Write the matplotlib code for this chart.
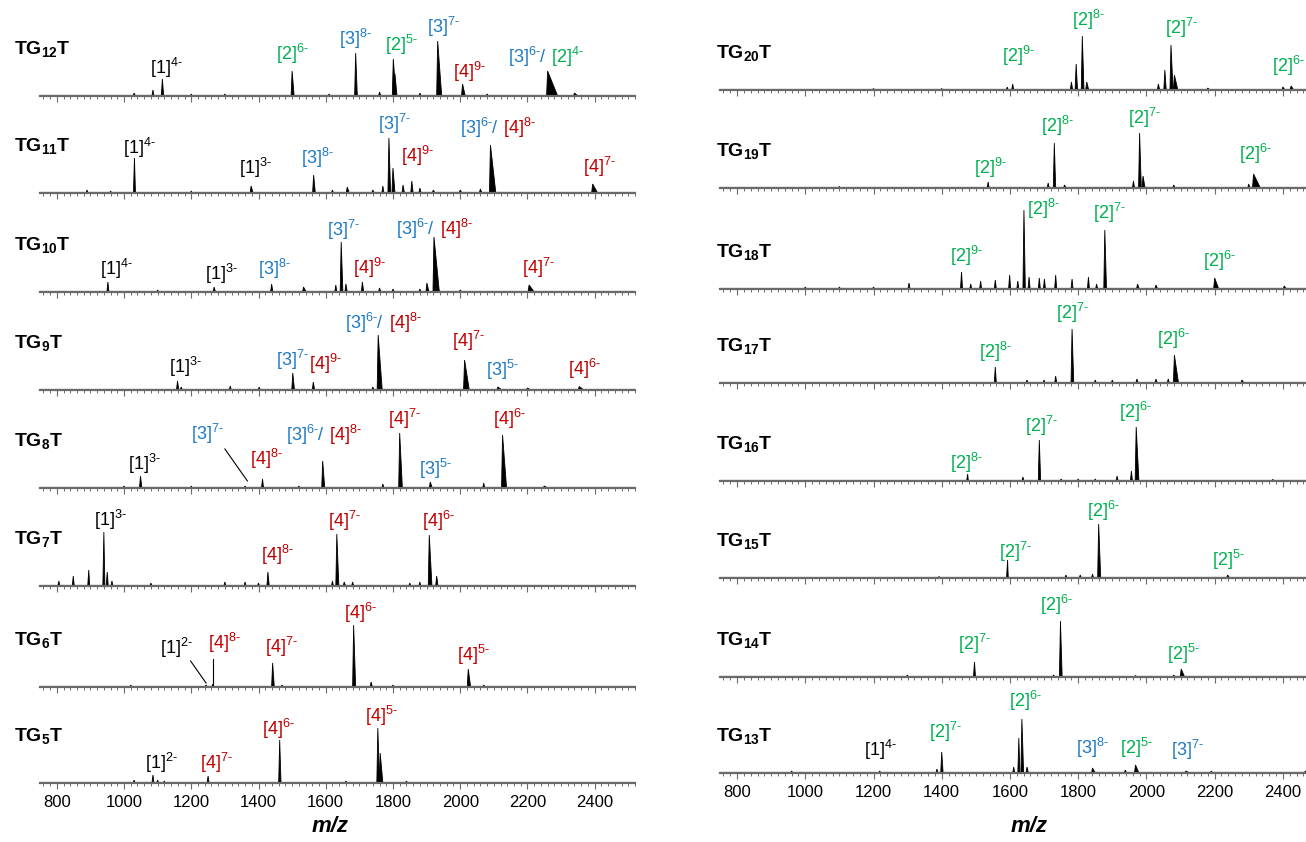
import matplotlib.pyplot as plt
from matplotlib.ticker import MultipleLocator

plt.rcParams['font.family'] = ['Liberation Sans', 'DejaVu Sans']
plt.rcParams['mathtext.fontset'] = 'custom'
plt.rcParams['mathtext.rm'] = 'Liberation Sans'
plt.rcParams['mathtext.it'] = 'Liberation Sans:italic'
plt.rcParams['mathtext.bf'] = 'Liberation Sans:bold'

# ---- peak lists: (m/z, relative intensity, tail width in m/z)
tg12_peaks = [(1030, 3, 4), (1086, 6, 3), (1114, 17, 4), (1200, 2, 3), (1300, 2, 3), (1500, 25, 6),
              (1610, 2, 3), (1689, 43, 5), (1760, 4, 4), (1801, 37, 8), (1806, 22, 6), (1880, 3, 4),
              (1933, 55, 12), (2007, 12, 8), (2080, 2, 4), (2260, 25, 30), (2340, 3, 10)]
tg11_peaks = [(890, 3, 3), (960, 2, 3), (1031, 35, 3), (1200, 2, 3), (1378, 7, 6), (1564, 18, 5),
              (1620, 3, 3), (1664, 6, 6), (1740, 3, 4), (1770, 7, 3), (1788, 55, 5), (1800, 25, 6),
              (1830, 8, 4), (1856, 12, 4), (1880, 5, 4), (1920, 3, 5), (2000, 3, 5), (2060, 4, 5),
              (2090, 48, 16), (2394, 9, 15)]
tg10_peaks = [(952, 10, 3), (1100, 2, 3), (1268, 5, 4), (1439, 8, 4), (1534, 5, 8), (1630, 7, 3),
              (1646, 50, 5), (1660, 8, 4), (1709, 10, 4), (1760, 4, 4), (1800, 3, 4), (1880, 3, 4),
              (1901, 9, 6), (1922, 55, 16), (2000, 2, 5), (2205, 7, 15)]
tg9_peaks = [(1159, 9, 4), (1170, 3, 4), (1316, 4, 3), (1402, 3, 3), (1502, 17, 5), (1563, 8, 4),
             (1740, 3, 4), (1756, 55, 12), (2013, 30, 14), (2112, 3, 12), (2200, 2, 10), (2354, 3.5, 14)]
tg8_peaks = [(1000, 2, 3), (1049, 12, 4), (1200, 2, 3), (1360, 2, 3), (1412, 9, 3), (1520, 2, 3),
             (1591, 27, 6), (1770, 4, 3), (1820, 55, 8), (1911, 6, 6), (2070, 5, 3), (2126, 53, 12),
             (2250, 2, 10)]
tg7_peaks = [(806, 5, 3), (849, 10, 3), (895, 16, 3), (940, 54, 3), (950, 14, 3), (964, 5, 3),
             (1080, 3, 3), (1300, 4, 3), (1360, 4, 3), (1400, 3, 3), (1428, 14, 4), (1620, 5, 3),
             (1633, 52, 6), (1655, 4, 4), (1680, 4, 3), (1850, 3, 3), (1880, 4, 3), (1908, 51, 8),
             (1930, 10, 4)]
tg6_peaks = [(1020, 2, 3), (1244, 2, 3), (1264, 3, 3), (1442, 24, 5), (1470, 2, 3), (1683, 62, 6),
             (1735, 5, 4), (1800, 2, 3), (2024, 18, 7), (2070, 2, 4)]
tg5_peaks = [(1030, 3, 3), (1086, 8, 3), (1100, 3, 3), (1120, 2, 3), (1250, 7, 3), (1463, 43, 4),
             (1660, 2, 3), (1755, 55, 5), (1762, 30, 8), (1840, 2, 3)]

tg20_peaks = [(1200, 1.5, 3), (1400, 1.5, 3), (1592, 3, 3), (1608, 6, 3), (1780, 8, 4), (1794, 26, 4),
              (1812, 54, 5), (1825, 8, 6), (2035, 6, 4), (2054, 20, 4), (2072, 45, 6), (2082, 15, 10),
              (2180, 2, 5), (2400, 3, 6), (2424, 4, 8)]
tg19_peaks = [(1100, 1.5, 3), (1536, 6, 3), (1712, 5, 3), (1730, 45, 4), (1760, 3, 4), (1962, 7, 3),
              (1980, 55, 5), (1990, 12, 6), (2080, 3, 4), (2300, 4, 3), (2314, 14, 20)]
tg18_peaks = [(1000, 2, 3), (1100, 2, 3), (1200, 2, 3), (1304, 6, 3), (1458, 17, 3), (1485, 5, 3),
              (1514, 8, 3), (1557, 9, 3), (1599, 14, 3), (1623, 8, 3), (1641, 79, 4), (1656, 12, 3),
              (1686, 11, 3), (1701, 10, 3), (1734, 14, 3), (1782, 10, 3), (1830, 12, 3), (1854, 5, 3),
              (1878, 59, 5), (1974, 5, 5), (2028, 4, 5), (2200, 11, 12), (2404, 3, 6)]
tg17_peaks = [(1557, 16, 3), (1650, 3, 3), (1700, 3, 3), (1734, 7, 3), (1782, 54, 5), (1850, 3, 3),
              (1900, 3, 3), (1972, 4, 4), (2028, 4, 4), (2064, 4, 3), (2082, 28, 12), (2280, 3, 6),
              (2480, 3, 8)]
tg16_peaks = [(1476, 7, 2), (1638, 4, 3), (1686, 41, 4), (1750, 2, 3), (1800, 2, 3), (1850, 2, 3),
              (1914, 5, 3), (1956, 10, 3), (1970, 54, 8), (2370, 1.5, 6)]
tg15_peaks = [(1392, 1.5, 3), (1593, 18, 2), (1764, 3, 3), (1806, 3, 3), (1842, 4, 3), (1860, 54, 6),
              (2238, 3, 6)]
tg14_peaks = [(1299, 2, 3), (1496, 15, 3), (1728, 2, 3), (1748, 56, 5), (1968, 1.5, 3), (2080, 2, 4),
              (2102, 8, 10)]
tg13_peaks = [(960, 2, 3), (1218, 2, 4), (1386, 4, 3), (1400, 21, 4), (1611, 6, 3), (1626, 35, 3),
              (1635, 54, 5), (1650, 6, 4), (1842, 5, 8), (1938, 3, 4), (1968, 8, 10), (2116, 2, 10),
              (2190, 2, 4), (2466, 2, 10)]

# ---- peak assignments: (species, charge, label x in m/z, label bottom, alignment)
tg12_labels = [(1, '4-', 1127, 16, 'center'), (2, '6-', 1500, 30, 'center'), (3, '8-', 1688, 45, 'center'),
               (2, '5-', 1824, 39, 'center'), (3, '7-', 1949, 57, 'center'), (4, '9-', 2026, 12, 'center'),
               (3, '6-/', 2258, 27, 'right'), (2, '4-', 2270, 27, 'left')]
tg11_labels = [(1, '4-', 1045, 33, 'center'), (1, '3-', 1390, 13, 'center'), (3, '8-', 1575, 23, 'center'),
               (3, '7-', 1803, 57, 'center'), (4, '9-', 1873, 25, 'center'),
               (3, '6-/', 2114, 53, 'right'), (4, '8-', 2128, 53, 'left'), (4, '7-', 2415, 14, 'center')]
tg10_labels = [(1, '4-', 976, 11, 'center'), (1, '3-', 1290, 6, 'center'), (3, '8-', 1447, 11, 'center'),
               (3, '7-', 1653, 50, 'center'), (4, '9-', 1730, 12, 'center'),
               (3, '6-/', 1925, 51, 'right'), (4, '8-', 1939, 51, 'left'), (4, '7-', 2232, 12, 'center')]
tg9_labels = [(1, '3-', 1182, 11, 'center'), (3, '7-', 1500, 18, 'center'), (4, '9-', 1600, 14, 'center'),
              (3, '6-/', 1773, 55, 'right'), (4, '8-', 1787, 55, 'left'), (4, '7-', 2023, 37, 'center'),
              (3, '5-', 2125, 8, 'center'), (4, '6-', 2370, 9, 'center')]
tg8_labels = [(1, '3-', 1060, 12, 'center'), (3, '7-', 1247, 42, 'center'), (4, '8-', 1424, 17, 'center'),
              (3, '6-/', 1597, 41, 'right'), (4, '8-', 1610, 41, 'left'), (4, '7-', 1834, 57, 'center'),
              (3, '5-', 1925, 7, 'center'), (4, '6-', 2146, 57, 'center')]
tg7_labels = [(1, '3-', 960, 54, 'center'), (4, '8-', 1456, 19, 'center'), (4, '7-', 1655, 53, 'center'),
              (4, '6-', 1934, 53, 'center')]
tg6_labels = [(1, '2-', 1156, 27, 'center'), (4, '8-', 1299, 32, 'center'), (4, '7-', 1468, 28, 'center'),
              (4, '6-', 1703, 62, 'center'), (4, '5-', 2040, 20, 'center')]
tg5_labels = [(1, '2-', 1110, 8, 'center'), (4, '7-', 1275, 8, 'center'), (4, '6-', 1460, 42, 'center'),
              (4, '5-', 1767, 55, 'center')]

tg20_labels = [(2, '9-', 1626, 22, 'center'), (2, '8-', 1831, 58, 'center'), (2, '7-', 2104, 50, 'center'),
               (2, '6-', 2416, 12, 'center')]
tg19_labels = [(2, '9-', 1544, 8, 'center'), (2, '8-', 1739, 50, 'center'), (2, '7-', 1994, 58, 'center'),
               (2, '6-', 2318, 22, 'center')]
tg18_labels = [(2, '9-', 1473, 21, 'center'), (2, '8-', 1699, 68, 'center'), (2, '7-', 1892, 64, 'center'),
               (2, '6-', 2213, 16, 'center')]
tg17_labels = [(2, '8-', 1557, 19, 'center'), (2, '7-', 1784, 58, 'center'), (2, '6-', 2078, 32, 'center')]
tg16_labels = [(2, '8-', 1472, 6, 'center'), (2, '7-', 1691, 43, 'center'), (2, '6-', 1968, 57, 'center')]
tg15_labels = [(2, '7-', 1616, 14, 'center'), (2, '6-', 1873, 55, 'center'), (2, '5-', 2240, 6, 'center')]
tg14_labels = [(2, '7-', 1496, 21, 'center'), (2, '6-', 1736, 60, 'center'), (2, '5-', 2108, 11, 'center')]
tg13_labels = [(1, '4-', 1220, 11, 'center'), (2, '7-', 1412, 29, 'center'), (2, '6-', 1646, 60, 'center'),
               (3, '8-', 1843, 13, 'center'), (2, '5-', 1970, 13, 'center'), (3, '7-', 2120, 11, 'center')]

# leader lines (x0, y0, x1, y1) in data units
tg8_leaders = [(1300, 39, 1367, 7)]
tg6_leaders = [(1198, 26, 1244, 4), (1264, 28, 1264, 2)]

left_n = [12, 11, 10, 9, 8, 7, 6, 5]
right_n = [20, 19, 18, 17, 16, 15, 14, 13]
left_peaks = [tg12_peaks, tg11_peaks, tg10_peaks, tg9_peaks, tg8_peaks, tg7_peaks, tg6_peaks, tg5_peaks]
right_peaks = [tg20_peaks, tg19_peaks, tg18_peaks, tg17_peaks, tg16_peaks, tg15_peaks, tg14_peaks, tg13_peaks]
left_labels = [tg12_labels, tg11_labels, tg10_labels, tg9_labels, tg8_labels, tg7_labels, tg6_labels, tg5_labels]
right_labels = [tg20_labels, tg19_labels, tg18_labels, tg17_labels, tg16_labels, tg15_labels, tg14_labels,
                tg13_labels]
left_leaders = [[], [], [], [], tg8_leaders, [], tg6_leaders, []]
right_leaders = [[]] * 8

COLORS = {1: 'black', 2: '#00B050', 3: '#1F7AC4', 4: '#C00000'}

W, H = 1306, 842
fig = plt.figure(figsize=(W / 100, H / 100), dpi=100)

# baselines in pixels from the top
left_base = [96, 193, 292, 390, 488, 586, 687, 783]
right_base = [90, 188, 289, 383, 481, 578, 677, 773]
AX_H = 80


def label_text(sp, ch):
    tail = ''
    if ch.endswith('/'):
        ch, tail = ch[:-1], '/'
    num = ch.rstrip('-')
    return r'$\mathregular{[%d]^{%s\text{-}}%s}$' % (sp, num, tail)


def panel(x0, x1, base, xlim, n, peaks, labels, leaders, bottom, title_x, title_dy):
    ax = fig.add_axes([x0 / W, (H - base) / H, (x1 - x0) / W, AX_H / H])
    ax.set_xlim(*xlim)
    ax.set_ylim(0, AX_H)
    for s in ['top', 'right', 'left']:
        ax.spines[s].set_visible(False)
    ax.spines['bottom'].set_color('#6a6a6a')
    ax.spines['bottom'].set_linewidth(1.6)
    ax.set_yticks([])
    ax.xaxis.set_major_locator(MultipleLocator(200))
    ax.xaxis.set_minor_locator(MultipleLocator(20))
    ax.tick_params(axis='x', which='major', length=4.5, width=0.8, color='#6a6a6a',
                   labelsize=12, pad=4, labelbottom=bottom)
    ax.tick_params(axis='x', which='minor', length=2.5, width=0.7, color='#6a6a6a')

    # spectrum: baseline + peaks
    ax.plot(xlim, [0.6, 0.6], color='black', lw=0.8)
    for mz, h, tail in peaks:
        ax.fill([mz - 3, mz, mz + tail], [0, h, 0], color='black', lw=0.6,
                edgecolor='black', clip_on=False)

    for sp, ch, lx, ly, ha in labels:
        ax.text(lx, ly, label_text(sp, ch), color=COLORS[sp], fontsize=13,
                ha=ha, va='bottom', clip_on=False)
    for lx0, ly0, lx1, ly1 in leaders:
        ax.plot([lx0, lx1], [ly0, ly1], color='black', lw=0.8, clip_on=False)

    fig.text(title_x / W, (H - base + title_dy) / H, r'$\mathbf{TG_{%d}T}$' % n,
             fontsize=14, ha='left', va='center')
    return ax


for i in range(8):
    panel(40, 635, left_base[i], (750, 2520), left_n[i], left_peaks[i], left_labels[i],
          left_leaders[i], i == 7, 14, 47)
    panel(720, 1317, right_base[i], (750, 2500), right_n[i], right_peaks[i], right_labels[i],
          right_leaders[i], i == 7, 716, 37)

fig.text(330 / W, (H - 826) / H, 'm/z', fontsize=16, fontweight='bold', fontstyle='italic',
         ha='center', va='center')
fig.text(1029 / W, (H - 826) / H, 'm/z', fontsize=16, fontweight='bold', fontstyle='italic',
         ha='center', va='center')

fig.savefig('out.png', dpi=100)
